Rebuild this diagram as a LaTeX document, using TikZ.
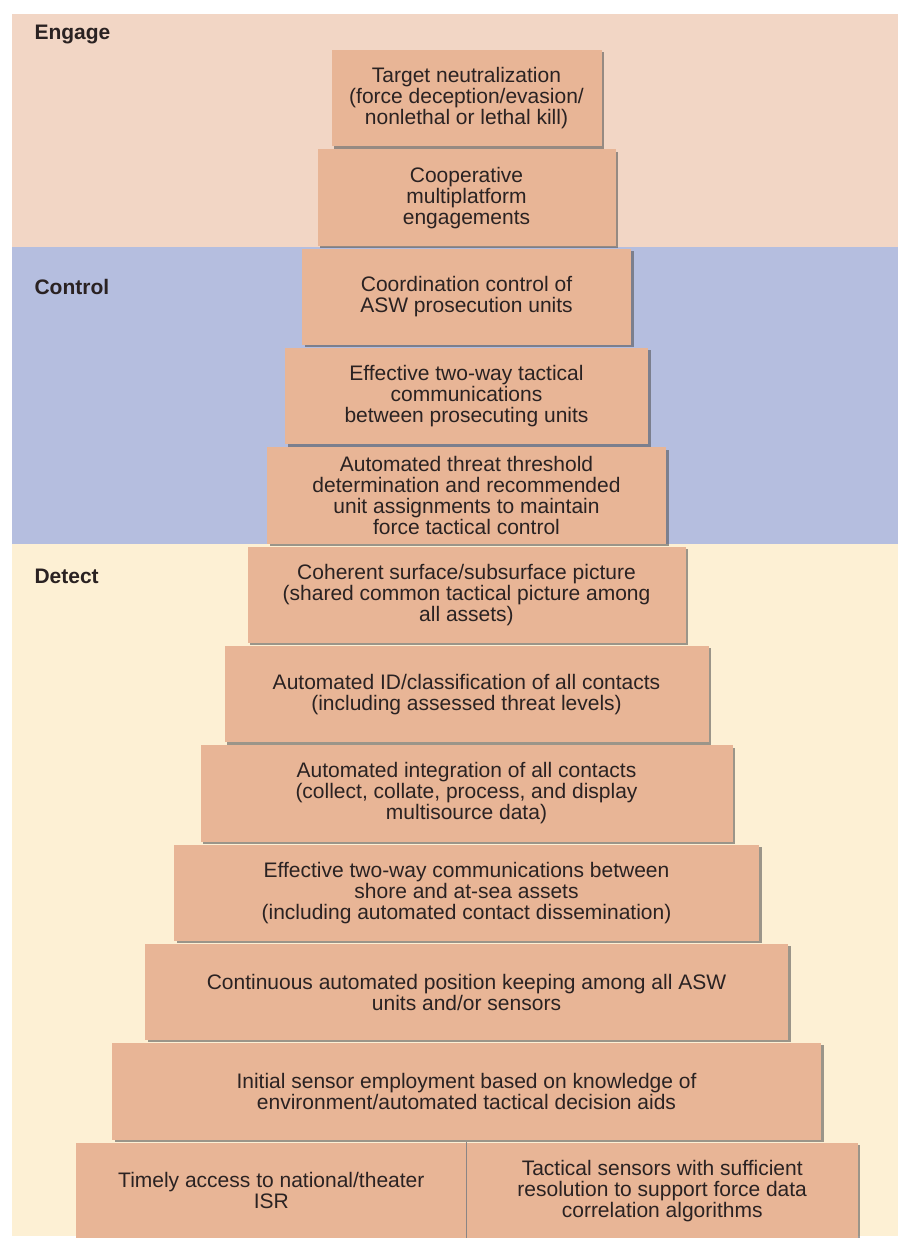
\documentclass[tikz,border=0pt]{standalone}
\usepackage{fontspec}
\setmainfont{Liberation Sans}
\usetikzlibrary{positioning,shadows}
\definecolor{engagebg}{HTML}{F2D6C5}
\definecolor{controlbg}{HTML}{B5BEDF}
\definecolor{detectbg}{HTML}{FDF0D4}
\definecolor{tierfill}{HTML}{E8B596}
\definecolor{inkdark}{HTML}{2A2222}

\begin{document}
\begin{tikzpicture}[x=1pt, y=-1pt, node distance=2.6pt,
  every node/.style={font=\fontsize{21}{21}\selectfont, text=inkdark},
  tier/.style={fill=tierfill, minimum height=96.3pt, inner sep=2pt, align=center,
    drop shadow={shadow xshift=2.5pt, shadow yshift=-2.2pt, fill=black!70, opacity=0.55}},
  band/.style={font=\fontsize{21}{21}\selectfont\bfseries, anchor=west}]
\useasboundingbox (0,0) rectangle (898,1238);
\fill[white] (0,0) rectangle (898,1238);
% three phase bands
\fill[engagebg] (12,14) rectangle (898,247);
\fill[controlbg] (12,247) rectangle (898,544);
\fill[detectbg] (12,544) rectangle (898,1236);
\node[band] (engage) at (31,35) {Engage};
\node[band] (control) at (31,287) {Control};
\node[band] (detect) at (31,576) {Detect};
% pyramid, top down
\node[tier, minimum width=270pt, anchor=north] (neutral) at (466.5,50) {Target neutralization\\ (force deception/evasion/\\ nonlethal or lethal kill)};
\node[tier, minimum width=298pt, below=of neutral] (coop) {Cooperative\\ multiplatform\\ engagements};
\node[tier, minimum width=329pt, below=of coop] (coord) {Coordination control of\\ ASW prosecution units};
\node[tier, minimum width=363pt, below=of coord] (tactcomms) {Effective two-way tactical\\ communications\\ between prosecuting units};
\node[tier, minimum width=399pt, below=of tactcomms] (threat) {Automated threat threshold\\ determination and recommended\\ unit assignments to maintain\\ force tactical control};
\node[tier, minimum width=438pt, below=of threat] (picture) {Coherent surface/subsurface picture\\ (shared common tactical picture among\\ all assets)};
\node[tier, minimum width=484pt, below=of picture] (classify) {Automated ID/classification of all contacts\\ (including assessed threat levels)};
\node[tier, minimum width=532pt, below=of classify] (integrate) {Automated integration of all contacts\\ (collect, collate, process, and display\\ multisource data)};
\node[tier, minimum width=585pt, below=of integrate] (shorecomms) {Effective two-way communications between\\ shore and at-sea assets\\ (including automated contact dissemination)};
\node[tier, minimum width=643pt, below=of shorecomms] (position) {Continuous automated position keeping among all ASW\\ units and/or sensors};
\node[tier, minimum width=709pt, below=of position] (sensor) {Initial sensor employment based on knowledge of\\ environment/automated tactical decision aids};
% base row split in two
\node[tier, minimum width=390pt, below left=2.6pt and 0pt of sensor.south] (isr) {Timely access to national/theater\\ ISR};
\node[tier, minimum width=391pt, right=0pt of isr] (tactsensors) {Tactical sensors with sufficient\\ resolution to support force data\\ correlation algorithms};
\draw[inkdark!55, line width=0.8pt] (tactsensors.north west) -- (tactsensors.south west);
\end{tikzpicture}
\end{document}
